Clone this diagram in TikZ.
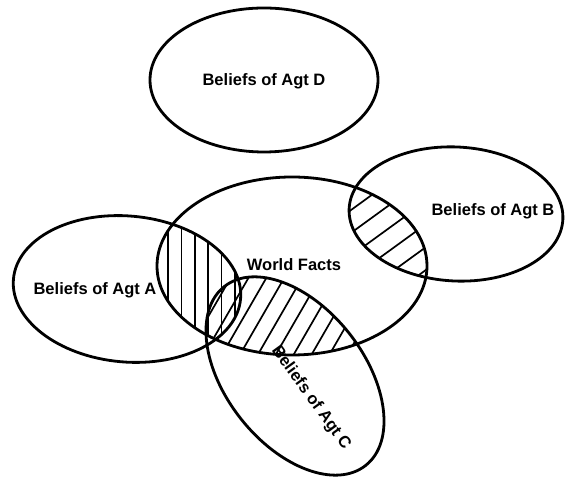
\documentclass[tikz,border=0pt]{standalone}
\usepackage{fontspec}
\setmainfont{Liberation Sans}
\begin{document}
\begin{tikzpicture}[x=1pt,y=1pt,
  outline/.style={line width=2.8pt},
  hatch/.style={line width=1.7pt},
  lbl/.style={font=\fontsize{16.5}{18}\selectfont\bfseries, inner sep=0pt}]
\useasboundingbox (0,0) rectangle (565,478);
% hatching A cap World
\begin{scope}
  \clip (292,212) ellipse [x radius=135, y radius=89];
  \clip (127,189) ellipse [x radius=114, y radius=73, rotate=-5];
  \foreach \k in {-3,...,8} \draw[hatch] ({168+13.4*\k},80) -- ({168+13.4*\k},330);
\end{scope}
% hatching B cap World
\begin{scope}
  \clip (292,212) ellipse [x radius=135, y radius=89];
  \clip (456,264) ellipse [x radius=107, y radius=67, rotate=-3];
  \begin{scope}[shift={(355,248)}, rotate=36]
    \foreach \k in {-10,...,10} \draw[hatch] (-300,{18.5*\k}) -- (300,{18.5*\k});
  \end{scope}
\end{scope}
% hatching C cap World
\begin{scope}
  \clip (292,212) ellipse [x radius=135, y radius=89];
  \clip (295,102) ellipse [x radius=114, y radius=69, rotate=-51.7];
  \begin{scope}[shift={(320,138)}, rotate=60]
    \foreach \k in {-12,...,12} \draw[hatch] (-300,{15.5*\k}) -- (300,{15.5*\k});
  \end{scope}
\end{scope}
% outlines
\draw[outline] (264,398) ellipse [x radius=114, y radius=72];
\draw[outline] (292,212) ellipse [x radius=135, y radius=89];
\draw[outline] (127,189) ellipse [x radius=114, y radius=73, rotate=-5];
\draw[outline] (456,264) ellipse [x radius=107, y radius=67, rotate=-3];
\draw[outline] (295,102) ellipse [x radius=114, y radius=69, rotate=-51.7];
% labels
\node[lbl] (lD) at (264,397) {Beliefs of Agt D};
\node[lbl] (lA) at (95,188) {Beliefs of Agt A};
\node[lbl] (lB) at (493,267) {Beliefs of Agt B};
\node[lbl] (lW) at (294,213) {World Facts};
\node[lbl, rotate=-54] (lC) at (311,80) {Beliefs of Agt C};
\end{tikzpicture}
\end{document}
